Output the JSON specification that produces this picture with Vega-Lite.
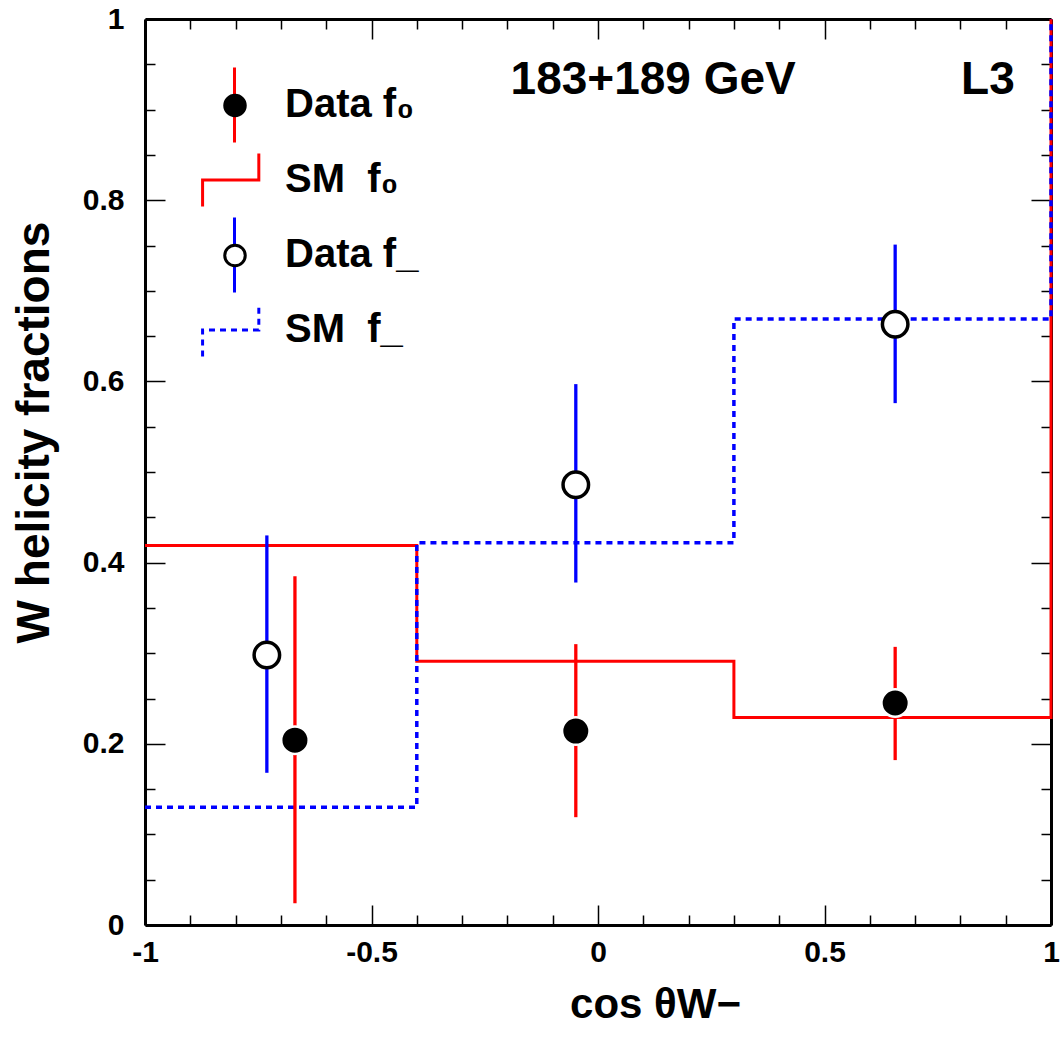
{
  "$schema": "https://vega.github.io/schema/vega-lite/v6.json",
  "width": 906,
  "height": 906,
  "autosize": {"type": "none"},
  "padding": {"left": 145, "top": 19, "right": 9, "bottom": 100},
  "background": "white",
  "config": {
    "view": {"stroke": null},
    "axis": {"grid": false, "labelFont": "Liberation Sans", "titleFont": "Liberation Sans", "labelColor": "black", "titleColor": "black", "domainColor": "black", "tickColor": "black"},
    "legend": {"labelFont": "Liberation Sans"}
  },
  "datasets": {
    "steps": [
      {"series": "s0", "x": -1, "y": 0.419},
      {"series": "s0", "x": -0.4, "y": 0.291},
      {"series": "s0", "x": 0.3, "y": 0.229},
      {"series": "s0", "x": 1, "y": 0.229},
      {"series": "s0", "x": 1, "y": 1},
      {"series": "sm", "x": -1, "y": 0.13},
      {"series": "sm", "x": -0.4, "y": 0.422},
      {"series": "sm", "x": 0.3, "y": 0.669},
      {"series": "sm", "x": 1, "y": 0.669},
      {"series": "sm", "x": 1, "y": 1}
    ],
    "points": [
      {"series": "d0", "x": -0.669, "y": 0.204, "lo": 0.024, "hi": 0.385},
      {"series": "d0", "x": -0.049, "y": 0.214, "lo": 0.119, "hi": 0.31},
      {"series": "d0", "x": 0.656, "y": 0.245, "lo": 0.182, "hi": 0.307},
      {"series": "dm", "x": -0.731, "y": 0.298, "lo": 0.168, "hi": 0.43},
      {"series": "dm", "x": -0.049, "y": 0.486, "lo": 0.378, "hi": 0.597},
      {"series": "dm", "x": 0.656, "y": 0.663, "lo": 0.576, "hi": 0.751}
    ]
  },
  "layer": [
    {
      "data": {"values": [{}]},
      "mark": {"type": "point", "opacity": 0},
      "encoding": {
        "x": {"datum": 0, "type": "quantitative", "scale": {"domain": [-1, 1], "nice": false, "zero": false},
          "axis": {"orient": "bottom", "values": [-1, -0.5, 0, 0.5, 1], "ticks": false, "domain": true, "domainWidth": 3, "labels": true, "labelFontSize": 30, "labelFontWeight": "bold", "labelPadding": 12, "labelFlush": false, "labelOverlap": false, "labelExpr": "'' + datum.value", "title": "cos θW−", "titleFontSize": 42, "titleFontWeight": "bold", "titleX": 510, "titleY": 92, "titleAlign": "center", "titleBaseline": "alphabetic"}},
        "y": {"datum": 0.5, "type": "quantitative", "scale": {"domain": [0, 1], "nice": false, "zero": false},
          "axis": {"orient": "left", "values": [0, 0.2, 0.4, 0.6, 0.8, 1], "ticks": false, "domain": true, "domainWidth": 3, "labels": true, "labelFontSize": 30, "labelFontWeight": "bold", "labelPadding": 21, "labelFlush": false, "labelOverlap": false, "labelExpr": "'' + datum.value", "title": "W helicity fractions", "titleFontSize": 46, "titleFontWeight": "bold", "titleX": -97, "titleY": 413, "titleAngle": 270, "titleAlign": "center", "titleBaseline": "alphabetic"}}
      }
    },
    {
      "layer": [
        {
          "data": {"name": "steps"},
          "transform": [{"filter": "datum.series === 's0'"}],
          "mark": {"type": "line", "interpolate": "step-after", "strokeWidth": 3},
          "encoding": {
            "x": {"field": "x", "type": "quantitative", "scale": {"domain": [-1, 1], "nice": false, "zero": false}, "axis": null},
            "y": {"field": "y", "type": "quantitative", "scale": {"domain": [0, 1], "nice": false, "zero": false}, "axis": null},
            "stroke": {"field": "series", "type": "nominal",
              "scale": {"domain": ["d0", "s0", "dm", "sm", "none"], "range": ["#ff0000", "#ff0000", "#0000ff", "#0000ff", "#000000"]},
              "legend": {"values": ["d0", "s0", "dm", "sm"], "orient": "none", "legendX": 50, "legendY": 48.5, "padding": 0, "title": null, "clipHeight": 75, "rowPadding": 0, "symbolSize": 5776, "symbolStrokeWidth": 3, "labelOffset": 11, "labelFontSize": 40, "labelFontWeight": "bold", "labelColor": "black", "labelLimit": 500, "zindex": 1,
                "labelExpr": "datum.value === 'd0' ? 'Data f₀' : datum.value === 's0' ? 'SM\u00a0\u00a0f₀' : datum.value === 'dm' ? 'Data f_' : 'SM\u00a0\u00a0f_'",
                "encode": {"symbols": {"update": {
                  "shape": {"signal": "datum.value === 's0' || datum.value === 'sm' ? 'M-0.84,0.7L-0.84,0L0.64,0L0.64,-0.7' : 'M0,-1L0,1'"},
                  "strokeDash": {"signal": "datum.value === 'sm' ? [6,5] : [1,0]"},
                  "fill": {"value": "transparent"},
                  "strokeWidth": {"value": 3},
                  "opacity": {"value": 1}
                }}}
              }}
          }
        },
        {
          "data": {"name": "steps"},
          "transform": [{"filter": "datum.series === 'sm'"}],
          "mark": {"type": "line", "interpolate": "step-after", "strokeWidth": 3.5, "strokeDash": [6, 5]},
          "encoding": {
            "x": {"field": "x", "type": "quantitative", "axis": null},
            "y": {"field": "y", "type": "quantitative", "axis": null},
            "stroke": {"field": "series", "type": "nominal"}
          }
        },
        {
          "data": {"name": "points"},
          "mark": {"type": "rule", "strokeWidth": 3.3},
          "encoding": {
            "x": {"field": "x", "type": "quantitative", "axis": null},
            "y": {"field": "lo", "type": "quantitative", "axis": null},
            "y2": {"field": "hi"},
            "stroke": {"field": "series", "type": "nominal"}
          }
        },
        {
          "data": {"name": "points"},
          "mark": {"type": "point", "filled": true, "opacity": 1},
          "encoding": {
            "x": {"field": "x", "type": "quantitative", "axis": null},
            "y": {"field": "y", "type": "quantitative", "axis": null},
            "fill": {"field": "series", "type": "nominal",
              "scale": {"domain": ["d0", "s0", "dm", "sm"], "range": ["black", "transparent", "white", "transparent"]},
              "legend": {"orient": "top-left", "offset": 48.5, "padding": 0, "title": null, "clipHeight": 75, "rowPadding": 0, "symbolSize": 420, "symbolOffset": 21, "symbolStrokeWidth": 3, "labelExpr": "''", "labelFontSize": 40, "zindex": 2}},
            "shape": {"field": "series", "type": "nominal",
              "scale": {"domain": ["d0", "s0", "dm", "sm"], "range": ["circle", "M0,0", "circle", "M0,0"]},
              "legend": {"orient": "top-left", "offset": 48.5, "padding": 0, "title": null, "clipHeight": 75, "rowPadding": 0, "symbolSize": 420, "symbolOffset": 21, "symbolStrokeWidth": 3, "labelExpr": "''", "labelFontSize": 40, "zindex": 2}},
            "stroke": {"condition": {"test": "datum.series === 'd0'", "value": "white"}, "value": "black"},
            "strokeWidth": {"condition": {"test": "datum.series === 'd0'", "value": 2.5}, "value": 3.5},
            "size": {"condition": {"test": "datum.series === 'd0'", "value": 756}, "value": 650}
          }
        },
        {
          "data": {"values": [{"label": "183+189 GeV"}]},
          "mark": {"type": "text", "align": "left", "baseline": "alphabetic", "font": "Liberation Sans", "fontSize": 46, "fontWeight": "bold", "color": "black"},
          "encoding": {
            "x": {"datum": -0.193, "type": "quantitative", "axis": null},
            "y": {"datum": 0.917, "type": "quantitative", "axis": null},
            "text": {"field": "label"}
          }
        },
        {
          "data": {"values": [{"label": "L3"}]},
          "mark": {"type": "text", "align": "right", "baseline": "alphabetic", "font": "Liberation Sans", "fontSize": 46, "fontWeight": "bold", "color": "black"},
          "encoding": {
            "x": {"datum": 0.92, "type": "quantitative", "axis": null},
            "y": {"datum": 0.917, "type": "quantitative", "axis": null},
            "text": {"field": "label"}
          }
        }
      ]
    },
    {
      "data": {"values": [{}]},
      "mark": {"type": "point", "opacity": 0},
      "encoding": {
        "x": {"datum": 0, "type": "quantitative", "scale": {"domain": [-1, 1], "nice": false, "zero": false},
          "axis": {"orient": "bottom", "values": [-1, -0.5, 0, 0.5, 1], "tickSize": -20, "tickWidth": 1.5, "labels": false, "domain": false, "title": null}},
        "y": {"datum": 0.5, "type": "quantitative", "scale": {"domain": [0, 1], "nice": false, "zero": false},
          "axis": {"orient": "left", "values": [0, 0.2, 0.4, 0.6, 0.8, 1], "tickSize": -20, "tickWidth": 1.5, "labels": false, "domain": false, "title": null}}
      }
    },
    {
      "data": {"values": [{}]},
      "mark": {"type": "point", "opacity": 0},
      "encoding": {
        "x": {"datum": 0, "type": "quantitative", "scale": {"domain": [-1, 1], "nice": false, "zero": false},
          "axis": {"orient": "bottom", "values": [-0.9, -0.8, -0.7, -0.6, -0.4, -0.3, -0.2, -0.1, 0.1, 0.2, 0.3, 0.4, 0.6, 0.7, 0.8, 0.9], "tickSize": -10, "tickWidth": 1.5, "labels": false, "domain": false, "title": null}},
        "y": {"datum": 0.5, "type": "quantitative", "scale": {"domain": [0, 1], "nice": false, "zero": false},
          "axis": {"orient": "left", "values": [0.05, 0.1, 0.15, 0.25, 0.3, 0.35, 0.45, 0.5, 0.55, 0.65, 0.7, 0.75, 0.85, 0.9, 0.95], "tickSize": -10, "tickWidth": 1.5, "labels": false, "domain": false, "title": null}}
      }
    },
    {
      "data": {"values": [{}]},
      "mark": {"type": "point", "opacity": 0},
      "encoding": {
        "x": {"datum": 0, "type": "quantitative", "scale": {"domain": [-1, 1], "nice": false, "zero": false},
          "axis": {"orient": "top", "values": [-1, -0.5, 0, 0.5, 1], "tickSize": -20, "tickWidth": 1.5, "labels": false, "domain": true, "domainWidth": 3, "title": null}},
        "y": {"datum": 0.5, "type": "quantitative", "scale": {"domain": [0, 1], "nice": false, "zero": false},
          "axis": {"orient": "right", "values": [0, 0.2, 0.4, 0.6, 0.8, 1], "tickSize": -20, "tickWidth": 1.5, "labels": false, "domain": true, "domainWidth": 3, "title": null}}
      }
    },
    {
      "data": {"values": [{}]},
      "mark": {"type": "point", "opacity": 0},
      "encoding": {
        "x": {"datum": 0, "type": "quantitative", "scale": {"domain": [-1, 1], "nice": false, "zero": false},
          "axis": {"orient": "top", "values": [-0.9, -0.8, -0.7, -0.6, -0.4, -0.3, -0.2, -0.1, 0.1, 0.2, 0.3, 0.4, 0.6, 0.7, 0.8, 0.9], "tickSize": -10, "tickWidth": 1.5, "labels": false, "domain": false, "title": null}},
        "y": {"datum": 0.5, "type": "quantitative", "scale": {"domain": [0, 1], "nice": false, "zero": false},
          "axis": {"orient": "right", "values": [0.05, 0.1, 0.15, 0.25, 0.3, 0.35, 0.45, 0.5, 0.55, 0.65, 0.7, 0.75, 0.85, 0.9, 0.95], "tickSize": -10, "tickWidth": 1.5, "labels": false, "domain": false, "title": null}}
      }
    }
  ],
  "resolve": {"scale": {"x": "independent", "y": "independent"}}
}
